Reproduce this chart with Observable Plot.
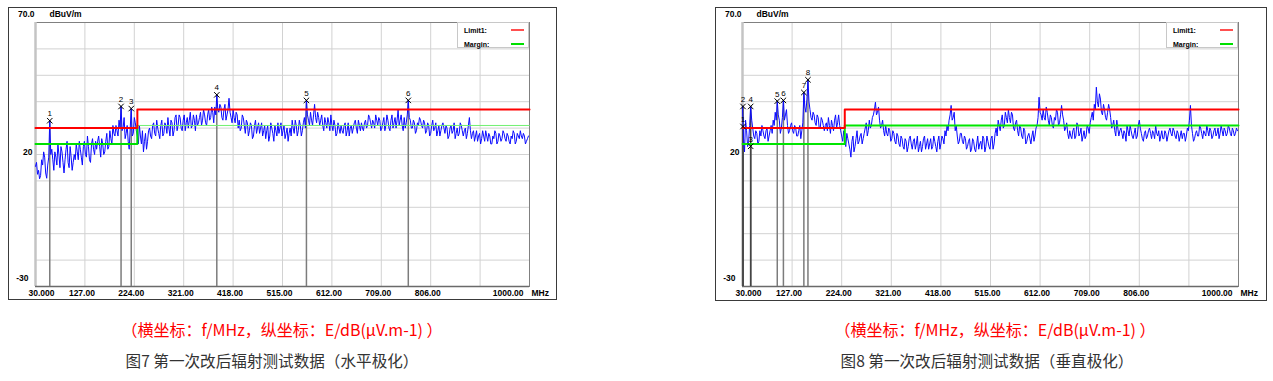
<!DOCTYPE html>
<html><head><meta charset="utf-8">
<script src="https://cdn.jsdelivr.net/npm/d3@7"></script>
<script src="https://cdn.jsdelivr.net/npm/@observablehq/plot@0.6"></script>
<style>
html,body{margin:0;padding:0;background:#fff;}
#page{position:relative;width:1273px;height:381px;overflow:hidden;font-family:"Noto Sans CJK SC","Noto Sans",sans-serif;}
.panel{position:absolute;}
.panel svg{display:block;}
.legend{position:absolute;background:#fff;border:1px solid #c8c8c8;box-sizing:border-box;font:bold 7px "Liberation Sans",Arial,sans-serif;color:#000;}
.legend span{position:absolute;left:6px;line-height:1;transform:translateY(-50%);}
.legend i{position:absolute;left:53px;width:13px;}
.cap{position:absolute;white-space:nowrap;line-height:1;transform:translate(-50%,-50%);}
.red{color:#ff0000;font-size:16px;}
.grey{color:#333;font-size:15.6px;}
</style></head>
<body><div id="page"></div>
<script>
// Sweep grid of the receiver trace (MHz)
const sweepStartMHz = 30, sweepStepMHz = 2;

// Figure 7: horizontal polarization trace, dBuV/m
const hLevels = [
15.5,17,12.5,14,10.8,12,18,16,21,19,13,11,16,19,32.8,20,22,18,14,21,
19,16,24,20,15,23,21,17,13,18,22,25,17,15,23,19,14,17,20,18,
24,21,18,25,22,19,16,23,25,20,19,27,23,18,17,24,26,22,20,25,
22,25,27,23,19,26,24,20,21,25,28,22,23,29,26,24,31,28,27,31,
29,27,33,30,38.2,29,30,34,26,28,31,25,22,30,37.4,27,28,34,32,29,
27,24,31,27,24,29,21,25,28,22,25,29,30,27,26,31,32,28,27,33,
30,28,26,31,33,27,28,32,31,28,34,30,27,33,32,27,29,34,35,29,
31,35,34,30,29,33,35,29,32,34,30,33,36,30,31,35,33,29,35,31,
32,34,36,31,33,37,35,32,31,35,37,33,34,38,36,32,38,35,42.6,37,
36,39,38,34,33,37,39,33,35,37,41.3,36,34,32,37,34,32,36,35,30,
33,29,30,35,34,31,28,33,32,27,29,32,31,26,27,31,33,28,30,32,
28,30,32,27,29,31,26,29,31,25,27,32,30,28,25,31,29,27,32,28,
30,32,27,29,31,26,28,30,25,28,30,27,33,30,28,33,31,27,29,33,
31,27,29,32,34,30,40.5,35,33,31,36,33,31,35,39,34,32,36,34,31,
33,35,31,29,34,32,30,34,32,29,35,31,29,33,31,27,28,32,30,28,
31,29,28,31,32,27,29,32,27,30,31,28,30,32,33,30,28,33,31,29,
32,30,29,32,33,30,31,35,34,32,30,33,32,30,35,33,31,34,33,29,
30,32,34,29,31,35,33,30,29,33,35,30,32,34,30,33,37,31,33,35,
31,29,34,30,32,35,40.5,34,33,30,30,33,32,28,29,32,31,34,33,31,
30,33,32,28,29,32,31,27,28,31,33,29,30,32,27,29,31,27,29,31,
32,30,28,31,30,26,27,30,31,28,29,32,26,28,30,27,28,32,31,29,
27,29,30,26,28,31,34,29,26,28,29,25,27,29,25,27,28,24,26,29,
27,25,29,27,25,28,27,24,24,27,26,29,28,24,25,28,27,25,26,29,
28,26,25,28,27,25,24,27,26,29,28,24,25,28,27,26,29,27,26,28,27,24,25,26,27
];

// Figure 8: vertical polarization trace, dBuV/m
const vLevels = [
38.2,26,21,33,29,23,25,31,38.2,33,30,27,26,29,28,24,25,29,27,31,
29,27,26,29,30,25,27,29,31,28,33,31,36,33,40.2,35,33,28,30,34,
40.5,33,35,37,31,28,29,31,32,29,28,31,30,27,27,29,31,26,29,32,
43.5,38,36,41,48.3,40,37,34,33,36,35,32,31,35,34,30,30,34,33,31,
29,31,32,29,34,31,28,33,31,29,33,35,30,32,35,31,29,27,25,29,
26,23,28,26,24,22,19,25,27,21,23,26,29,24,25,27,28,24,26,28,
30,32,27,29,33,30,31,34,35,37,39.8,35,36,38,33,30,31,33,29,27,
31,28,27,30,29,25,26,29,28,25,24,28,27,24,23,27,26,23,22,26,
25,21,23,26,27,24,22,25,26,22,24,27,21,23,25,21,23,26,27,22,
24,26,22,24,26,22,23,27,25,23,21,25,27,22,24,27,26,24,29,27,
31,29,33,35,38.6,33,34,36,29,31,27,24,25,28,28,25,24,27,26,22,
23,25,26,21,22,26,25,22,21,24,27,22,24,25,22,27,26,21,23,27,
25,23,22,26,27,22,24,28,30,27,33,31,29,33,35,30,31,36,34,32,
37,34,32,36,35,30,29,32,33,29,27,31,30,27,26,30,29,24,25,27,
28,26,24,27,29,25,27,30,31,34,41.7,36,35,33,37,34,33,38,36,33,
31,35,34,31,30,34,33,37,36,31,32,35,38.6,35,33,29,30,32,28,26,
29,27,26,29,30,26,27,32,31,27,28,30,25,27,29,26,27,31,30,28,
32,34,36,33,39,37,45.5,40,38,43,41,36,35,39,37,34,33,36,39,37,
34,30,31,33,29,27,33,30,27,29,30,28,26,29,28,25,31,29,27,31,
29,27,26,28,30,26,27,31,33,30,28,26,25,28,29,26,27,29,30,28,
26,29,28,26,31,28,27,29,25,27,29,26,26,29,28,25,27,29,30,28,
27,30,29,27,26,29,28,25,27,29,26,28,28,25,27,30,29,33,38.6,31,
28,25,26,28,29,27,27,31,30,28,26,29,28,27,31,29,27,30,29,26,
27,29,30,27,28,30,26,28,31,29,27,30,29,27,28,31,30,28,27,30,29,27,28,30,29
];

// Limit and margin lines
const limitFreqs = [30, 230, 1000];
const limitLevels = [30, 37, 37];
const marginLevels = [24, 31, 31];

// Markers
const hMarkerNums = ["1","2","3","4","5","6"];
const hMarkerFreqs = [58, 198, 218, 386, 562, 762];
const hMarkerLevels = [32.8, 38.2, 37.4, 42.6, 40.5, 40.5];
const vMarkerNums = ["1","2","3","4","5","6","7","8"];
const vMarkerFreqs = [31, 31, 46, 46, 98, 110, 150, 158];
const vMarkerLevels = [30.6, 38.2, 23.1, 38.2, 40.2, 40.5, 43.5, 48.3];

// Axes
const xDomain = [30, 1000];
const yDomain = [-30, 70];
const xGridMHz = [127, 224, 321, 418, 515, 612, 709, 806, 903];
const yGridDb = [-20, -10, 0, 10, 20, 30, 40, 50, 60];
const xLabelMHz = [30, 127, 224, 321, 418, 515, 612, 709, 806, 1000];
const xLabelText = ["30.000","127.00","224.00","321.00","418.00","515.00","612.00","709.00","806.00","1000.00"];
const yLabelDb = [70, 20, -30];
const yLabelText = ["70.0", "20", "-30"];
const yUnit = "dBuV/m", xUnit = "MHz";
const legendNames = ["Limit1:", "Margin:"];

const captionsTop = ["（横坐标：f/MHz，纵坐标：E/dB(μV.m-1) ）", "（横坐标：f/MHz，纵坐标：E/dB(μV.m-1) ）"];
const captionsBottom = ["图7 第一次改后辐射测试数据（水平极化）", "图8 第一次改后辐射测试数据（垂直极化）"];

const FONT = '"Liberation Sans", Arial, sans-serif';

function makePanel(cfg) {
  const trace = cfg.levels.map((v, i) => ({f: sweepStartMHz + i * sweepStepMHz, v}));
  const limit = limitFreqs.map((f, i) => ({f, v: limitLevels[i]}));
  const margin = limitFreqs.map((f, i) => ({f, v: marginLevels[i]}));
  const markers = cfg.mNums.map((n, i) => ({n, f: cfg.mFreqs[i], v: cfg.mLevels[i]}));
  const xl = xLabelMHz.map((f, i) => ({f, t: xLabelText[i]}));
  const yl = yLabelDb.map((v, i) => ({v, t: yLabelText[i]}));
  const y0 = yDomain[0];
  const tx = {fontWeight: "bold", fontSize: 8.5, fill: "#000"};
  const marks = [
    Plot.ruleX(xGridMHz, {stroke: "#d2d2d2", strokeWidth: 1}),
    Plot.ruleY(yGridDb, {stroke: "#d2d2d2", strokeWidth: 1}),
    Plot.frame({stroke: "#808080", strokeWidth: 1}),
    Plot.ruleX([xDomain[0]], {stroke: "#c4c4c4", strokeWidth: 2.5}),
    Plot.ruleY([y0], {stroke: "#6a6a6a", strokeWidth: 1.5}),
    Plot.ruleX(markers, {x: "f", y1: () => y0, y2: "v", stroke: (d, i) => cfg.ruleColor(i), strokeWidth: 1.5}),
    Plot.line(trace, {x: "f", y: "v", stroke: "#0a0aff", strokeWidth: 1}),
  ];
  if (cfg.thinUpperMargin) {
    marks.push(Plot.line(margin, {x: "f", y: "v", curve: "step-after", stroke: "#70f070", strokeWidth: 1}));
    marks.push(Plot.line(margin.filter(d => d.f <= 230), {x: "f", y: "v", curve: "step-after", stroke: "#00e000", strokeWidth: 2}));
  } else {
    marks.push(Plot.line(margin, {x: "f", y: "v", curve: "step-after", stroke: "#00e600", strokeWidth: 2}));
  }
  marks.push(
    Plot.line(limit, {x: "f", y: "v", curve: "step-after", stroke: "#ff0000", strokeWidth: 2}),
    Plot.dot(markers, {x: "f", y: "v", symbol: "times", r: 2.6, stroke: "#000", strokeWidth: 1}),
    Plot.text(markers, {x: "f", y: "v", text: "n", dy: -7, fill: "#000", fontSize: 8, fontWeight: "normal"}),
    Plot.text(xl.filter((d, i) => i === 0), {x: "f", y: () => y0, text: "t", dy: 6.5, dx: -7, textAnchor: "start", ...tx}),
    Plot.text(xl.filter((d, i) => i > 0 && i < xl.length - 1), {x: "f", y: () => y0, text: "t", dy: 6.5, dx: -3, ...tx}),
    Plot.text(xl.filter((d, i) => i === xl.length - 1), {x: "f", y: () => y0, text: "t", dy: 6.5, dx: -6, textAnchor: "end", ...tx}),
    Plot.text([xUnit], {x: () => xDomain[1], y: () => y0, text: d => d, dy: 6.5, dx: 2, textAnchor: "start", ...tx}),
    Plot.text(yl.filter(d => d.v === 70), {x: () => xDomain[0], y: "v", text: "t", dy: -8, dx: -1, textAnchor: "end", ...tx}),
    Plot.text(yl.filter(d => d.v === 20), {x: () => xDomain[0], y: "v", text: "t", dy: -2.5, dx: -3, textAnchor: "end", ...tx}),
    Plot.text(yl.filter(d => d.v === -30), {x: () => xDomain[0], y: "v", text: "t", dy: -8.5, dx: -7, textAnchor: "end", ...tx}),
    Plot.text([yUnit], {x: () => xDomain[0], y: () => yDomain[1], text: d => d, dy: -8, dx: 14, textAnchor: "start", ...tx})
  );
  const svg = Plot.plot({
    width: cfg.w, height: cfg.h,
    marginLeft: 27, marginRight: cfg.w - 27 - cfg.plotW, marginTop: 15, marginBottom: cfg.h - 15 - 264,
    x: {domain: xDomain, axis: null},
    y: {domain: yDomain, axis: null},
    style: {fontFamily: FONT, fontSize: "8px", background: "#fff", overflow: "visible", color: "#000"},
    marks
  });
  svg.style.outline = "1.5px solid #3a3a3a";
  svg.style.outlineOffset = "-1px";
  const div = document.createElement("div");
  div.className = "panel";
  div.style.left = cfg.left + "px";
  div.style.top = cfg.top + "px";
  div.appendChild(svg);
  const lg = document.createElement("div");
  lg.className = "legend";
  lg.style.left = (27 + cfg.plotW - 72) + "px";
  lg.style.top = "15px";
  lg.style.width = "72px";
  lg.style.height = "26px";
  const colors = [["#ff5050", 1.5], ["#00e000", 2]];
  legendNames.forEach((n, i) => {
    const s = document.createElement("span");
    s.textContent = n;
    s.style.top = (7 + 14 * i) + "px";
    lg.appendChild(s);
    const ln = document.createElement("i");
    ln.style.top = (7 + 14 * i - colors[i][1] / 2) + "px";
    ln.style.height = colors[i][1] + "px";
    ln.style.background = colors[i][0];
    lg.appendChild(ln);
  });
  div.appendChild(lg);
  document.getElementById("page").appendChild(div);
}

makePanel({left: 8, top: 7, w: 549, h: 293, plotW: 494, levels: hLevels,
  mNums: hMarkerNums, mFreqs: hMarkerFreqs, mLevels: hMarkerLevels,
  ruleColor: () => "#7c7c7c", thinUpperMargin: true});
makePanel({left: 715, top: 7, w: 552, h: 294, plotW: 496, levels: vLevels,
  mNums: vMarkerNums, mFreqs: vMarkerFreqs, mLevels: vMarkerLevels,
  ruleColor: i => (i < 4 ? "#444" : "#7c7c7c"), thinUpperMargin: false});

const capPos = [[282, 329, 272, 361], [995, 329, 987, 361]];
capPos.forEach((p, i) => {
  const a = document.createElement("div");
  a.className = "cap red"; a.textContent = captionsTop[i];
  a.style.left = p[0] + "px"; a.style.top = p[1] + "px";
  const b = document.createElement("div");
  b.className = "cap grey"; b.textContent = captionsBottom[i];
  b.style.left = p[2] + "px"; b.style.top = p[3] + "px";
  document.getElementById("page").append(a, b);
});
</script>
</body></html>
